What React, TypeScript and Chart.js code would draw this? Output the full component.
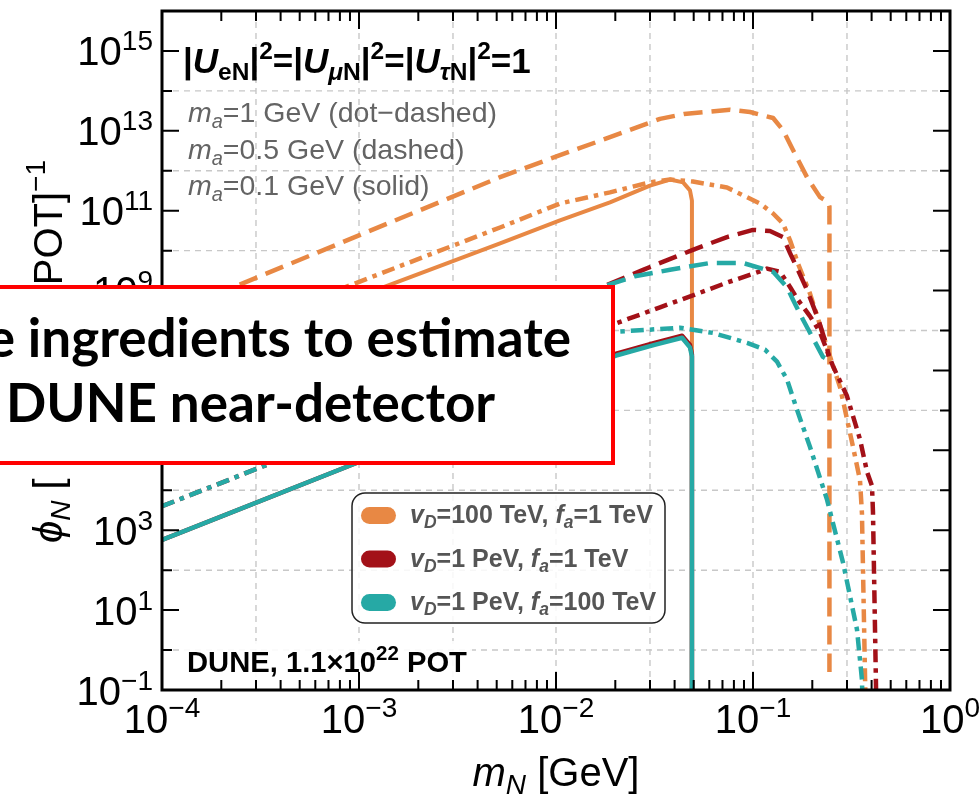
import React, { useEffect, useRef } from 'react';
import { Chart, registerables } from 'chart.js';

Chart.register(...registerables);

// Colours of the three (v_D, f_a) benchmarks
const ORANGE = 'rgb(232,136,68)';
const DARK_RED = 'rgb(163,17,24)';
const TEAL = 'rgb(38,169,165)';

// Each curve: log10(m_N / GeV) and log10(phi_N)
// v_D = 100 TeV, f_a = 1 TeV
const orangeSolidLogM = [-4.0, -2.878, -2.284, -1.98, -1.726, -1.523, -1.421, -1.355, -1.32, -1.31, -1.31];
const orangeSolidLogPhi = [7.0, 9.08, 10.18, 10.76, 11.21, 11.63, 11.78, 11.71, 11.51, 11.25, -2];
const orangeDashedLogM = [-4.0, -3.64, -2.284, -1.98, -1.726, -1.472, -1.35, -1.218, -1.117, -1.015, -0.898, -0.848, -0.797, -0.726, -0.66, -0.619, -0.612, -0.612];
const orangeDashedLogPhi = [8.35, 9.08, 11.84, 12.39, 12.84, 13.3, 13.42, 13.48, 13.53, 13.47, 13.32, 13.02, 12.52, 11.84, 11.34, 11.22, 11.1, -0.55];
const orangeDashDotLogM = [-4.0, -3.046, -2.284, -1.98, -1.726, -1.523, -1.421, -1.305, -1.132, -0.964, -0.898, -0.848, -0.812, -0.772, -0.711, -0.624, -0.558, -0.492, -0.457, -0.447, -0.431, -0.425];
const orangeDashDotLogPhi = [7.32, 9.13, 10.58, 11.18, 11.46, 11.71, 11.78, 11.73, 11.58, 11.18, 10.93, 10.68, 10.26, 9.68, 8.93, 7.58, 6.58, 5.08, 4.26, 3.43, -0.74, -2];

// v_D = 1 PeV, f_a = 1 TeV
const redSolidLogM = [-4.0, -3.01, -2.0, -1.69, -1.5, -1.36, -1.32, -1.31, -1.31];
const redSolidLogPhi = [2.76, 4.69, 6.75, 7.43, 7.69, 7.87, 7.64, 7.4, -2];
const redDashedLogM = [-4.0, -2.2, -1.76, -1.558, -1.305, -1.132, -1.0, -0.914, -0.848, -0.812, -0.772, -0.726, -0.67, -0.625, -0.616];
const redDashedLogPhi = [4.95, 8.45, 9.1, 9.52, 10.02, 10.34, 10.52, 10.49, 10.34, 9.94, 9.52, 9.02, 8.3, 7.6, 7.35];
const redDashDotLogM = [-4.0, -3.467, -2.5, -1.69, -1.472, -1.305, -1.132, -0.964, -0.929, -0.863, -0.812, -0.772, -0.711, -0.66, -0.594, -0.523, -0.457, -0.421, -0.396, -0.391, -0.376, -0.372];
const redDashDotLogPhi = [3.6, 4.64, 6.57, 8.19, 8.58, 8.88, 9.2, 9.48, 9.55, 9.47, 9.09, 8.77, 8.36, 7.96, 7.11, 6.36, 5.28, 4.46, 4.11, 3.46, -0.79, -2];

// v_D = 1 PeV, f_a = 100 TeV
const tealSolidLogM = [-4.0, -3.01, -2.0, -1.69, -1.5, -1.36, -1.32, -1.31, -1.31];
const tealSolidLogPhi = [2.76, 4.69, 6.75, 7.38, 7.64, 7.82, 7.58, 7.35, -2];
const tealDashedLogM = [-4.0, -2.2, -1.76, -1.6, -1.421, -1.218, -1.05, -0.898, -0.827, -0.797, -0.746, -0.645, -0.619];
const tealDashedLogPhi = [4.95, 8.45, 9.1, 9.36, 9.52, 9.69, 9.69, 9.47, 9.08, 8.77, 8.27, 7.34, 7.27];
const tealDashDotLogM = [-4.0, -3.467, -2.0, -1.69, -1.371, -1.203, -1.03, -0.939, -0.878, -0.827, -0.777, -0.711, -0.624, -0.543, -0.472, -0.447, -0.44];
const tealDashDotLogPhi = [3.6, 4.64, 7.55, 7.97, 8.07, 7.94, 7.69, 7.52, 7.22, 6.77, 6.02, 5.09, 3.76, 2.19, 0.51, -0.74, -2];

// Axes
const xTickExponents = [-4, -3, -2, -1, 0];
const yTickExponents = [-1, 1, 3, 5, 7, 9, 11, 13, 15];
const yGridExponents = [0, 2, 4, 6, 8, 10, 12, 14];
const xGridValues = [3e-4, 1e-3, 3e-3, 1e-2, 3e-2, 1e-1, 3e-1];

// Legend
const legendColors = [ORANGE, DARK_RED, TEAL];
const legendVD = ['100 TeV', '1 PeV', '1 PeV'];
const legendFA = ['1 TeV', '1 TeV', '100 TeV'];

// Line-style key
const maValues = ['1', '0.5', '0.1'];
const maStyles = ['dot\u2212dashed', 'dashed', 'solid'];

const DASHED = [19, 9];
const DASH_DOT = [13, 6, 4.5, 6];

const FAMILY = "'Liberation Sans', Arial, 'DejaVu Sans', sans-serif";
const F = (size: number, style = '') => `${style} ${size}px ${FAMILY}`.trim();

type Run = { t: string; f: string; dy?: number };

function runsWidth(ctx: CanvasRenderingContext2D, runs: Run[]) {
  let w = 0;
  for (const r of runs) {
    ctx.font = r.f;
    w += ctx.measureText(r.t).width;
  }
  return w;
}

function drawRuns(ctx: CanvasRenderingContext2D, x: number, y: number, runs: Run[], color: string) {
  let cx = x;
  ctx.fillStyle = color;
  ctx.textAlign = 'left';
  ctx.textBaseline = 'alphabetic';
  for (const r of runs) {
    ctx.font = r.f;
    ctx.fillText(r.t, cx, y + (r.dy ?? 0));
    cx += ctx.measureText(r.t).width;
  }
  return cx;
}

const supText = (e: number) => (e < 0 ? '\u2212' + Math.abs(e) : String(e));

function toPoints(logM: number[], logPhi: number[]) {
  return logM.map((lm, i) => ({ x: Math.pow(10, lm), y: Math.pow(10, logPhi[i]) }));
}

function makeSet(logM: number[], logPhi: number[], color: string, dash: number[], width: number, order: number) {
  return {
    data: toPoints(logM, logPhi),
    borderColor: color,
    backgroundColor: color,
    borderWidth: width,
    borderDash: dash,
    borderCapStyle: 'butt' as const,
    borderJoinStyle: 'round' as const,
    pointRadius: 0,
    tension: 0,
    fill: false,
    clip: 0,
    order,
  };
}

const decorPlugin = {
  id: 'decor',
  beforeDatasetsDraw(chart: any) {
    const { ctx, chartArea: a, scales } = chart;
    const xs = scales.x;
    const ys = scales.y;
    ctx.save();
    ctx.strokeStyle = 'rgb(200,200,200)';
    ctx.lineWidth = 1.4;
    ctx.setLineDash([6, 5]);
    for (const v of xGridValues) {
      const px = xs.getPixelForValue(v);
      ctx.beginPath();
      ctx.moveTo(px, a.top);
      ctx.lineTo(px, a.bottom);
      ctx.stroke();
    }
    for (const e of yGridExponents) {
      const py = ys.getPixelForValue(Math.pow(10, e));
      ctx.beginPath();
      ctx.moveTo(a.left, py);
      ctx.lineTo(a.right, py);
      ctx.stroke();
    }
    ctx.restore();
  },
  afterDatasetsDraw(chart: any) {
    const { ctx, chartArea: a, scales } = chart;
    const xs = scales.x;
    const ys = scales.y;
    ctx.save();

    // coupling statement
    const B = F(35, 'bold');
    const BI = F(35, 'italic bold');
    const BS = F(24.5, 'bold');
    const BSI = F(24.5, 'italic bold');
    drawRuns(ctx, a.left + 21, a.top + 62, [
      { t: '|', f: B }, { t: 'U', f: BI }, { t: 'e', f: BS, dy: 7 }, { t: 'N', f: BS, dy: 7 }, { t: '|', f: B }, { t: '2', f: BS, dy: -14 }, { t: '=', f: B },
      { t: '|', f: B }, { t: 'U', f: BI }, { t: '\u03bc', f: BSI, dy: 7 }, { t: 'N', f: BS, dy: 7 }, { t: '|', f: B }, { t: '2', f: BS, dy: -14 }, { t: '=', f: B },
      { t: '|', f: B }, { t: 'U', f: BI }, { t: '\u03c4', f: BSI, dy: 7 }, { t: 'N', f: BS, dy: 7 }, { t: '|', f: B }, { t: '2', f: BS, dy: -14 }, { t: '=1', f: B },
    ], '#000');

    // m_a line-style key
    maValues.forEach((v, i) => {
      drawRuns(ctx, a.left + 26, a.top + 111 + i * 36.5, [
        { t: 'm', f: F(28.5, 'italic') },
        { t: 'a', f: F(20, 'italic'), dy: 6 },
        { t: `=${v} GeV (${maStyles[i]})`, f: F(28.5) },
      ], 'rgb(100,100,100)');
    });

    // exposure label with a light backing box
    ctx.fillStyle = 'rgba(255,255,255,0.9)';
    ctx.fillRect(a.left + 18, a.bottom - 49, 292, 47);
    drawRuns(ctx, a.left + 25, a.bottom - 18, [
      { t: 'DUNE, 1.1\u00d710', f: F(29.2, 'bold') },
      { t: '22', f: F(20.5, 'bold'), dy: -12 },
      { t: ' POT', f: F(29.2, 'bold') },
    ], '#000');

    // legend
    const lx = 352, ly = 493, lw = 313, lh = 130;
    ctx.beginPath();
    ctx.roundRect(lx, ly, lw, lh, 13);
    ctx.fillStyle = 'rgba(255,255,255,0.85)';
    ctx.fill();
    ctx.lineWidth = 1.5;
    ctx.strokeStyle = '#222';
    ctx.stroke();
    legendColors.forEach((c, i) => {
      const cy = 515.5 + i * 43.5;
      ctx.beginPath();
      ctx.roundRect(361, cy - 8.5, 35, 17, 8.5);
      ctx.fillStyle = c;
      ctx.fill();
      drawRuns(ctx, 410, cy + 7.5, [
        { t: 'v', f: F(25, 'italic bold') },
        { t: 'D', f: F(17.5, 'italic bold'), dy: 5 },
        { t: `=${legendVD[i]}, `, f: F(25, 'bold') },
        { t: 'f', f: F(25, 'italic bold') },
        { t: 'a', f: F(17.5, 'italic bold'), dy: 5 },
        { t: `=${legendFA[i]}`, f: F(25, 'bold') },
      ], 'rgb(85,85,85)');
    });

    // frame
    ctx.strokeStyle = '#000';
    ctx.lineWidth = 3;
    ctx.strokeRect(a.left, a.top, a.right - a.left, a.bottom - a.top);

    // inward ticks on all four sides
    ctx.lineWidth = 2;
    for (let e = 0; e <= 15; e++) {
      const py = ys.getPixelForValue(Math.pow(10, e));
      const len = e % 2 !== 0 ? 17 : 10;
      ctx.beginPath();
      ctx.moveTo(a.left, py);
      ctx.lineTo(a.left + len, py);
      ctx.moveTo(a.right, py);
      ctx.lineTo(a.right - len, py);
      ctx.stroke();
    }
    for (let d = -4; d <= -1; d++) {
      for (let k = 1; k <= 9; k++) {
        if (d === -4 && k === 1) continue;
        const px = xs.getPixelForValue(k * Math.pow(10, d));
        const len = k === 1 ? 18 : 10;
        ctx.beginPath();
        ctx.moveTo(px, a.bottom);
        ctx.lineTo(px, a.bottom - len);
        ctx.moveTo(px, a.top);
        ctx.lineTo(px, a.top + len);
        ctx.stroke();
      }
    }

    // tick labels
    for (const e of yTickExponents) {
      const py = ys.getPixelForValue(Math.pow(10, e));
      const runs: Run[] = [{ t: '10', f: F(40) }, { t: supText(e), f: F(28), dy: -15 }];
      const w = runsWidth(ctx, runs);
      drawRuns(ctx, a.left - 9 - w, py + 14.5, runs, '#000');
    }
    for (const e of xTickExponents) {
      const px = xs.getPixelForValue(Math.pow(10, e));
      const runs: Run[] = [{ t: '10', f: F(40) }, { t: supText(e), f: F(28), dy: -16 }];
      const w = runsWidth(ctx, runs);
      drawRuns(ctx, px - w / 2, a.bottom + 43, runs, '#000');
    }

    // x-axis title
    const xt: Run[] = [{ t: 'm', f: F(40, 'italic') }, { t: 'N', f: F(28, 'italic'), dy: 8 }, { t: ' [GeV]', f: F(40) }];
    const xtw = runsWidth(ctx, xt);
    drawRuns(ctx, (a.left + a.right) / 2 - xtw / 2, a.bottom + 96, xt, '#000');

    // y-axis title, drawn as its two end pieces
    const yb: Run[] = [{ t: '\u03d5', f: F(40, 'italic') }, { t: 'N', f: F(28, 'italic'), dy: 8 }, { t: ' [', f: F(40) }];
    ctx.save();
    ctx.translate(62, 543);
    ctx.rotate(-Math.PI / 2);
    drawRuns(ctx, 0, 0, yb, '#000');
    ctx.restore();
    const yt: Run[] = [{ t: 'POT]', f: F(40) }, { t: '\u22121', f: F(28), dy: -17 }];
    const ytw = runsWidth(ctx, yt);
    ctx.save();
    ctx.translate(62, 160 + ytw);
    ctx.rotate(-Math.PI / 2);
    drawRuns(ctx, 0, 0, yt, '#000');
    ctx.restore();

    ctx.restore();
  },
  afterDraw(chart: any) {
    const { ctx } = chart;
    ctx.save();
    // slide caption box
    ctx.fillStyle = '#fff';
    ctx.fillRect(-10, 285, 625, 180);
    ctx.strokeStyle = '#f00';
    ctx.lineWidth = 4;
    ctx.strokeRect(-10, 287, 623, 176);
    ctx.fillStyle = '#000';
    ctx.font = "bold 53px Lato, 'Noto Sans', sans-serif";
    ctx.textBaseline = 'alphabetic';
    ctx.textAlign = 'right';
    ctx.fillText('e ingredients to estimate', 571, 357);
    ctx.textAlign = 'left';
    ctx.fillText('DUNE near-detector', 6, 422);
    ctx.restore();
  },
};

export default function App() {
  const canvasRef = useRef<HTMLCanvasElement | null>(null);

  useEffect(() => {
    const canvas = canvasRef.current;
    if (!canvas) return;
    const datasets = [
      makeSet(orangeSolidLogM, orangeSolidLogPhi, ORANGE, [], 4, 3),
      makeSet(orangeDashedLogM, orangeDashedLogPhi, ORANGE, DASHED, 4.5, 3),
      makeSet(orangeDashDotLogM, orangeDashDotLogPhi, ORANGE, DASH_DOT, 4.5, 3),
      makeSet(redSolidLogM, redSolidLogPhi, DARK_RED, [], 4.5, 2),
      makeSet(redDashedLogM, redDashedLogPhi, DARK_RED, DASHED, 4.5, 2),
      makeSet(redDashDotLogM, redDashDotLogPhi, DARK_RED, DASH_DOT, 4.5, 2),
      makeSet(tealSolidLogM, tealSolidLogPhi, TEAL, [], 4.5, 1),
      makeSet(tealDashedLogM, tealDashedLogPhi, TEAL, DASHED, 4.5, 1),
      makeSet(tealDashDotLogM, tealDashDotLogPhi, TEAL, DASH_DOT, 4.5, 1),
    ];
    const chart = new Chart(canvas, {
      type: 'line',
      data: { datasets: datasets as any },
      options: {
        animation: false,
        responsive: false,
        events: [],
        parsing: true,
        layout: { padding: { left: 162, top: 11, right: 30, bottom: 104 } },
        plugins: {
          legend: { display: false },
          tooltip: { enabled: false },
          title: { display: false },
        },
        scales: {
          x: { type: 'logarithmic', min: 1e-4, max: 1, display: false },
          y: { type: 'logarithmic', min: 0.1, max: 1e16, display: false },
        },
      },
      plugins: [decorPlugin],
    } as any);
    return () => chart.destroy();
  }, []);

  return (
    <div style={{ position: 'fixed', left: 0, top: 0, width: 980, height: 794, overflow: 'hidden', background: '#fff' }}>
      <canvas ref={canvasRef} width={980} height={794} style={{ display: 'block' }} />
    </div>
  );
}
